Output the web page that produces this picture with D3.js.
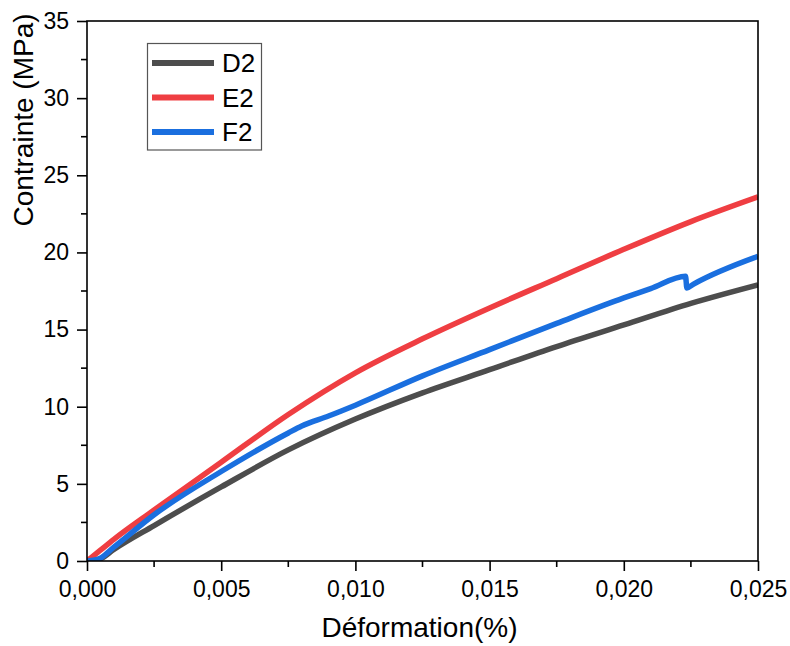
<!DOCTYPE html>
<html><head><meta charset="utf-8">
<script src="https://cdn.jsdelivr.net/npm/d3@7"></script>
<style>body{margin:0;background:#fff}svg{display:block}text{font-family:"Liberation Sans",Arial,sans-serif;fill:#000}</style>
</head><body><svg id="c" width="790" height="646"></svg>
<script>
const seriesNames = ["D2","E2","F2"];
const seriesColors = ["#4d4d4d","#ef3e42","#1a6fdf"];
const strainD2 = [0,0.0005,0.001,0.0025,0.005,0.0075,0.01,0.0125,0.015,0.0175,0.02,0.0225,0.025];
const stressD2 = [0,0.15,0.75,2.3,4.8,7.2,9.2,10.9,12.4,13.9,15.3,16.7,17.9];
const strainE2 = [0,0.0005,0.001,0.0025,0.005,0.0075,0.01,0.0125,0.015,0.0175,0.02,0.0225,0.025];
const stressE2 = [0,0.7,1.4,3.3,6.4,9.5,12.2,14.4,16.4,18.3,20.2,22.0,23.6];
const strainF2 = [0,0.0004,0.001,0.0025,0.005,0.0075,0.008,0.009,0.01,0.0125,0.015,0.0175,0.02,0.021,0.0223,0.02235,0.0226,0.025];
const stressF2 = [0,0.1,0.9,3.0,5.8,8.3,8.75,9.4,10.1,12.0,13.7,15.4,17.05,17.65,18.45,17.7,17.95,19.75];
const xTicks = [0,0.005,0.01,0.015,0.02,0.025];
const yTicks = [0,5,10,15,20,25,30,35];
const xLabel = "Déformation(%)";
const yLabel = "Contrainte (MPa)";

const svg = d3.select("#c");
const L=87, R=758, T=21, B=561;
const x = d3.scaleLinear().domain([0,0.025]).range([L,R]);
const y = d3.scaleLinear().domain([0,35]).range([B,T]);

const series = [
  {name:seriesNames[0], color:seriesColors[0], xs:strainD2, ys:stressD2},
  {name:seriesNames[1], color:seriesColors[1], xs:strainE2, ys:stressE2},
  {name:seriesNames[2], color:seriesColors[2], xs:strainF2, ys:stressF2}
];

svg.append("clipPath").attr("id","clip").append("rect").attr("x",L).attr("y",T).attr("width",R-L).attr("height",B-T);
const line = d3.line().x(d=>x(d[0])).y(d=>y(d[1])).curve(d3.curveMonotoneX);
series.forEach(s=>{
  svg.append("path").attr("clip-path","url(#clip)")
    .attr("d", line(s.xs.map((v,i)=>[v,s.ys[i]])))
    .attr("fill","none").attr("stroke",s.color).attr("stroke-width",5.5)
    .attr("stroke-linejoin","round");
});

// frame
svg.append("rect").attr("x",L).attr("y",T).attr("width",R-L).attr("height",B-T)
  .attr("fill","none").attr("stroke","#000").attr("stroke-width",1.6);

// axes
const xAxis = d3.axisBottom(x).tickValues(xTicks).tickSize(10).tickPadding(6)
  .tickFormat(d=>d3.format(".3f")(d).replace(".",","));
const gx = svg.append("g").attr("transform",`translate(0,${B})`).call(xAxis);
const yAxis = d3.axisLeft(y).tickValues(yTicks).tickSize(10).tickPadding(8).tickFormat(d3.format("d"));
const gy = svg.append("g").attr("transform",`translate(${L},0)`).call(yAxis);
[gx,gy].forEach(g=>{
  g.select(".domain").remove();
  g.selectAll(".tick line").attr("stroke","#000").attr("stroke-width",1.6);
  g.selectAll(".tick text").attr("font-size",23).attr("font-family","Liberation Sans, Arial, sans-serif").attr("fill","#000");
});
gx.selectAll(".tick text").attr("dy","0.88em");
// minor ticks
const xMinor = xTicks.slice(0,-1).map((v,i)=>(v+xTicks[i+1])/2);
const yMinor = yTicks.slice(0,-1).map((v,i)=>(v+yTicks[i+1])/2);
svg.append("g").selectAll("line").data(xMinor).join("line")
  .attr("x1",d=>x(d)).attr("x2",d=>x(d)).attr("y1",B).attr("y2",B+6).attr("stroke","#000").attr("stroke-width",1.6);
svg.append("g").selectAll("line").data(yMinor).join("line")
  .attr("y1",d=>y(d)).attr("y2",d=>y(d)).attr("x1",L).attr("x2",L-6).attr("stroke","#000").attr("stroke-width",1.6);

// titles
svg.append("text").attr("x",419.5).attr("y",637).attr("text-anchor","middle").attr("font-size",28).text(xLabel);
svg.append("text").attr("transform","translate(33,120) rotate(-90)").attr("text-anchor","middle").attr("font-size",28).text(yLabel);

// legend
const lg = svg.append("g");
lg.append("rect").attr("x",147.5).attr("y",43.5).attr("width",114).attr("height",106.5)
  .attr("fill","#fff").attr("stroke","#555").attr("stroke-width",1.2);
series.forEach((s,i)=>{
  const yy = 63 + i*34.5;
  lg.append("line").attr("x1",152).attr("x2",214).attr("y1",yy).attr("y2",yy)
    .attr("stroke",s.color).attr("stroke-width",6);
  lg.append("text").attr("x",222).attr("y",yy).attr("dy","0.36em").attr("font-size",26).text(s.name);
});
</script></body></html>
